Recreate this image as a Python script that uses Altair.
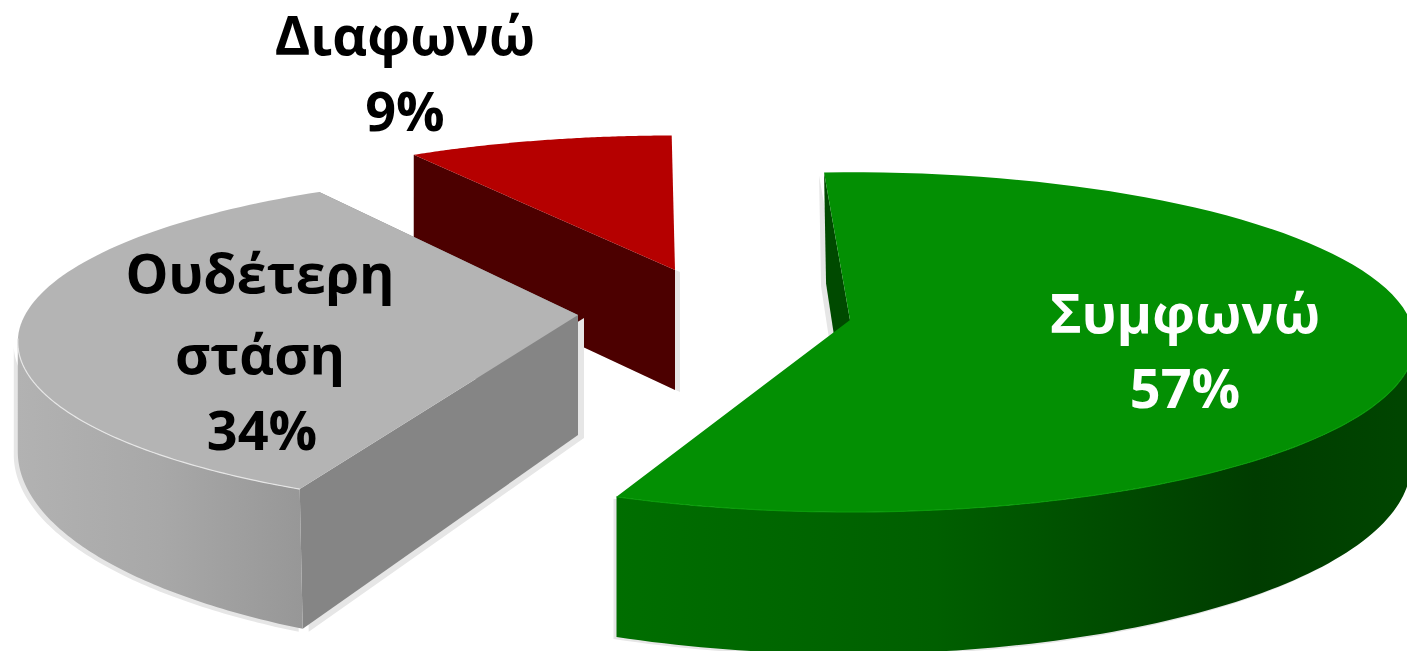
import math
import altair as alt
import pandas as pd

# --- chart values ---
categories = ["Συμφωνώ", "Ουδέτερη στάση", "Διαφωνώ"]
shares = [57, 34, 9]
label_lines = [["Συμφωνώ", "57%"], ["Ουδέτερη", "στάση", "34%"], ["Διαφωνώ", "9%"]]

# --- layout of the exploded, tilted pie ---
START = -3.0
RX = [560.0, 553.0, 535.0]
RY = [167.0, 165.0, 152.0]
PERSP = [0.13, 0.16, 0.13]
APEX = [(850, 320), (578, 315), (675, 270)]
OFF_START = [0.0, 3.3, 2.6]
OFF_END = [-0.7, 3.3, 2.6]
FACE = ["#038f03", "#b4b4b4", "#b50000"]
SIDE = ["#004a00", "#858585", "#4c0000"]
DEPTH_BASE = [120, 104, 120]
DEPTH_FRONT = [20, 36, 20]
BACK_DEPTH = [111, 100, 113]
WALL_RANGE = [(97.5, None), (None, 261), None]
DX = [lambda x: (x - 615) * -0.005, lambda x: (x - 18) * 0.0106, lambda x: 0]
W_STOPS = [
    [("#006e00", 0), ("#005f00", 0.4), ("#003c00", 0.8), ("#004600", 1)],
    [("#b2b2b2", 0), ("#a8a8a8", 0.5), ("#979797", 1)],
]
EDGE = ["#0a9c0a", "#e6e6e6", None]
TEXT = ["white", "black", "black"]
SHADOW = "#e6e6e6"
LABEL_POS = [
    [(1185, 333), (1185, 408)],
    [(260, 293), (260, 374), (262, 450)],
    [(405, 55), (405, 131)],
]

xs = alt.Scale(domain=[8, 1407], nice=False, zero=False)
ys = alt.Scale(domain=[651, 8], nice=False, zero=False)


def project(k, theta):
    t = math.radians(theta)
    s = 1 / (1 + PERSP[k] * math.cos(t))
    return APEX[k][0] + RX[k] * math.sin(t) * s, APEX[k][1] - RY[k] * math.cos(t) * s


def arc(k, a0, a1, n=90):
    return [project(k, a0 + (a1 - a0) * i / n) for i in range(n + 1)]


def polygon(points, color):
    df = pd.DataFrame(points, columns=["x", "y"]).assign(i=range(len(points)))
    return alt.Chart(df).mark_line(filled=True, fill=color, stroke=None, strokeWidth=0).encode(
        x=alt.X("x:Q", scale=xs, axis=None),
        y=alt.Y("y:Q", scale=ys, axis=None),
        order="i:Q",
    )


def shifted(points, dx, dy):
    return [(x + dx, y + dy) for x, y in points]


layers = []
angle = START
slices = []
for k, share in enumerate(shares):
    sweep = share / sum(shares) * 360
    slices.append((k, angle + OFF_START[k], angle + sweep + OFF_END[k]))
    angle += sweep

for k, a0, a1 in reversed(slices):
    ax = APEX[k]
    top = arc(k, a0, a1)
    a_front = (ax[0], ax[1] + 120)

    def depth(y):
        return DEPTH_BASE[k] + DEPTH_FRONT[k] * (y - ax[1]) / 175

    def below(p):
        return (p[0] + DX[k](p[0]), p[1] + depth(p[1]))

    # curved outer wall outline
    outline = None
    if WALL_RANGE[k]:
        lo = WALL_RANGE[k][0] if WALL_RANGE[k][0] is not None else a0
        hi = WALL_RANGE[k][1] if WALL_RANGE[k][1] is not None else a1
        upper = arc(k, lo, hi)
        outline = upper + [below(p) for p in reversed(upper)] + [upper[0]]

    # flat cut walls and their soft shadows
    if k == 0:
        c = top[0]
        wall = [c, (c[0] + 2, c[1] + BACK_DEPTH[k]), a_front, ax, c]
        layers.append(polygon(shifted(wall, -5, 3), SHADOW))
        layers.append(polygon(shifted(outline, -3, 2), SHADOW))
        layers.append(polygon(wall, SIDE[k]))
    if k == 1:
        c = top[-1]
        back = [c, (c[0], c[1] + BACK_DEPTH[k]), a_front, ax, c]
        c = top[0]
        front = [ax, a_front, below(c), c, ax]
        layers.append(polygon(shifted(front, 6, 3), SHADOW))
        layers.append(polygon(shifted(outline, -4, 3), SHADOW))
        layers.append(polygon(back, SIDE[k]))
        layers.append(polygon(front, SIDE[k]))
    if k == 2:
        c = top[0]
        wall = [c, (c[0], c[1] + BACK_DEPTH[k]), a_front, ax, c]
        layers.append(polygon(shifted(wall, 5, 2), SHADOW))
        layers.append(polygon(wall, SIDE[k]))

    # curved outer wall
    if outline:
        df = pd.DataFrame(outline, columns=["x", "y"]).assign(i=range(len(outline)))
        layers.append(
            alt.Chart(df)
            .mark_line(
                filled=True,
                stroke=None,
                strokeWidth=0,
                fill=alt.Gradient(
                    gradient="linear", x1=0, x2=1, y1=0, y2=0,
                    stops=[alt.GradientStop(color=c, offset=o) for c, o in W_STOPS[k]],
                ),
            )
            .encode(
                x=alt.X("x:Q", scale=xs, axis=None),
                y=alt.Y("y:Q", scale=ys, axis=None),
                order="i:Q",
            )
        )

    # top face
    layers.append(polygon([ax] + top + [ax], FACE[k]))

    # light rim along the front edge
    if EDGE[k]:
        lo, hi = (100, a1) if k == 0 else (a0, 262)
        rim = pd.DataFrame(arc(k, lo, hi), columns=["x", "y"]).assign(i=range(91))
        layers.append(
            alt.Chart(rim).mark_line(color=EDGE[k], strokeWidth=1.2).encode(
                x=alt.X("x:Q", scale=xs, axis=None),
                y=alt.Y("y:Q", scale=ys, axis=None),
                order="i:Q",
            )
        )

rows = []
for k, lines in enumerate(label_lines):
    for line, (x, y) in zip(lines, LABEL_POS[k]):
        rows.append({"t": line, "x": x, "y": y, "c": TEXT[k]})
labels = pd.DataFrame(rows)
layers.append(
    alt.Chart(labels)
    .mark_text(font="Open Sans", fontWeight="bold", fontSize=54, align="center", baseline="alphabetic")
    .encode(
        x=alt.X("x:Q", scale=xs, axis=None),
        y=alt.Y("y:Q", scale=ys, axis=None),
        text="t:N",
        color=alt.Color("c:N", scale=None),
    )
)

chart = (
    alt.layer(*layers)
    .properties(
        width=1399, height=643, padding=0, background="white",
        autosize=alt.AutoSizeParams(type="none"),
    )
    .configure_view(stroke=None)
)
chart.save("out.html", embed_options={"renderer": "svg", "actions": False})
